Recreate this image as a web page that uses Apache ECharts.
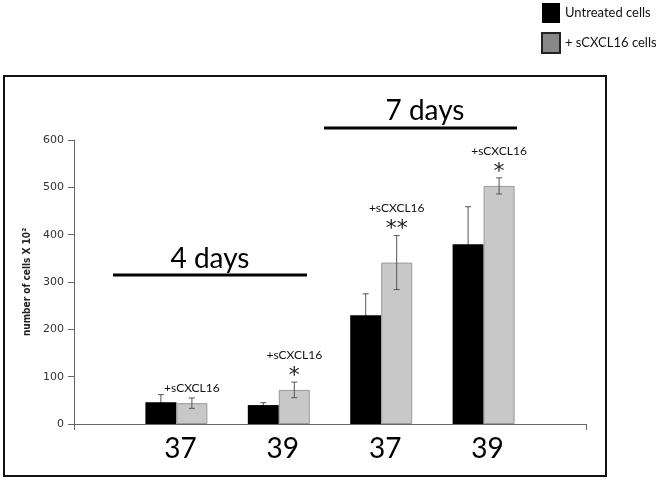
<!DOCTYPE html>
<html>
<head>
<meta charset="utf-8">
<script src="https://cdn.jsdelivr.net/npm/echarts@6/dist/echarts.min.js"></script>
<style>html,body{margin:0;padding:0;background:#fff;}#c{width:662px;height:481px;}</style>
</head>
<body>
<div id="c"></div>
<script>
// ---- data ----
const categories = ['', '37', '39', '37', '39', ''];
const untreated = [null, 46, 40, 230, 380, null];
const untreatedErr = [null, 16, 5, 45, 79, null];
const treated = [null, 44, 72, 341, 503, null];
const treatedErr = [null, 11, 16.5, 57, 17, null];
const annotText = ['', '+sCXCL16', '+sCXCL16', '+sCXCL16', '+sCXCL16', ''];
const stars = ['', '', '*', '**', '*', ''];
const yTicks = { min: 0, max: 600, interval: 100 };
const seriesNames = ['Untreated cells', '+ sCXCL16 cells'];

const BAR_W = 31;
const chart = echarts.init(document.getElementById('c'), null, { renderer: 'canvas' });

function errItem(side, withText) {
  return function (params, api) {
    const i = api.value(0);
    const v = api.value(1);
    const e = api.value(2);
    const c = api.coord([i, v]);
    const x = c[0] + side * BAR_W / 2;
    const top = api.coord([i, v + e])[1];
    const bot = api.coord([i, v - e])[1];
    const st = { stroke: '#555', lineWidth: 1 };
    const children = [
      { type: 'line', shape: { x1: x, y1: top, x2: x, y2: bot }, style: st },
      { type: 'line', shape: { x1: x - 3, y1: top, x2: x + 3, y2: top }, style: st },
      { type: 'line', shape: { x1: x - 3, y1: bot, x2: x + 3, y2: bot }, style: st }
    ];
    if (withText) {
      const s = stars[i];
      let labelY;
      if (s) {
        const starY = top - 11;
        children.push({ type: 'text', style: { text: s, x: x, y: starY + 5, align: 'center', verticalAlign: 'middle', font: '22px "DejaVu Sans"', fill: '#222' } });
        labelY = starY - 16;
      } else {
        labelY = top - 10;
      }
      children.push({ type: 'text', style: { text: annotText[i], x: x, y: labelY, align: 'center', verticalAlign: 'middle', font: '12px Lato', fill: '#111' } });
    }
    return { type: 'group', children: children };
  };
}

function errData(vals, errs) {
  const out = [];
  for (let i = 0; i < vals.length; i++) {
    if (vals[i] != null) out.push([i, vals[i], errs[i]]);
  }
  return out;
}

const option = {
  backgroundColor: '#fff',
  animation: false,
  grid: { left: 74, right: 76, top: 140, bottom: 57 },
  legend: {
    orient: 'vertical',
    left: 536,
    top: -2,
    itemWidth: 18,
    itemHeight: 20,
    itemGap: 9,
    icon: 'rect',
    textStyle: { fontFamily: 'Lato', fontSize: 13, color: '#111' },
    data: [
      { name: seriesNames[0], itemStyle: { color: '#000', borderWidth: 0 } },
      { name: seriesNames[1], itemStyle: { color: '#888', borderColor: '#222', borderWidth: 2 } }
    ]
  },
  xAxis: {
    type: 'category',
    data: categories,
    boundaryGap: false,
    axisLine: { lineStyle: { color: '#666', width: 1 } },
    axisTick: { show: true, length: 6, interval: function (idx) { return idx === 0 || idx === categories.length - 1; }, lineStyle: { color: '#666' } },
    axisLabel: { fontFamily: 'Lato', fontSize: 28, color: '#000', margin: 11, padding: [0, 0, 0, 8] },
    splitLine: { show: false }
  },
  yAxis: {
    type: 'value',
    min: yTicks.min,
    max: yTicks.max,
    interval: yTicks.interval,
    name: 'number of cells X 10²',
    nameLocation: 'middle',
    nameGap: 34,
    nameTextStyle: { fontFamily: '"DejaVu Sans Condensed", "DejaVu Sans", sans-serif', fontWeight: 'bold', fontSize: 10, color: '#222' },
    axisLine: { show: true, lineStyle: { color: '#666', width: 1 } },
    axisTick: { show: true, length: 6, lineStyle: { color: '#666' } },
    axisLabel: { fontFamily: 'DejaVu Sans', fontSize: 11, color: '#333', margin: 10 },
    splitLine: { show: false }
  },
  series: [
    { name: seriesNames[0], type: 'bar', data: untreated, barWidth: BAR_W, barGap: '0%', z: 3, itemStyle: { color: '#000' } },
    { name: seriesNames[1], type: 'bar', data: treated, barWidth: BAR_W, barGap: '0%', z: 3, itemStyle: { color: '#c8c8c8', borderColor: '#999', borderWidth: 1 } },
    { type: 'custom', name: 'errU', renderItem: errItem(-1, false), data: errData(untreated, untreatedErr), z: 1 },
    { type: 'custom', name: 'errT', renderItem: errItem(1, true), data: errData(treated, treatedErr), z: 5 }
  ],
  graphic: [
    { type: 'rect', shape: { x: 4, y: 76, width: 602, height: 400 }, style: { fill: 'none', stroke: '#111', lineWidth: 2 }, silent: true },
    { type: 'line', shape: { x1: 113, y1: 275, x2: 307, y2: 275 }, style: { stroke: '#000', lineWidth: 3 } },
    { type: 'text', style: { text: '4 days', x: 210, y: 259, align: 'center', verticalAlign: 'middle', font: '28px Lato', fill: '#000' } },
    { type: 'line', shape: { x1: 324, y1: 128, x2: 517, y2: 128 }, style: { stroke: '#000', lineWidth: 3 } },
    { type: 'text', style: { text: '7 days', x: 425, y: 111, align: 'center', verticalAlign: 'middle', font: '28px Lato', fill: '#000' } }
  ]
};
chart.setOption(option);
</script>
</body>
</html>
